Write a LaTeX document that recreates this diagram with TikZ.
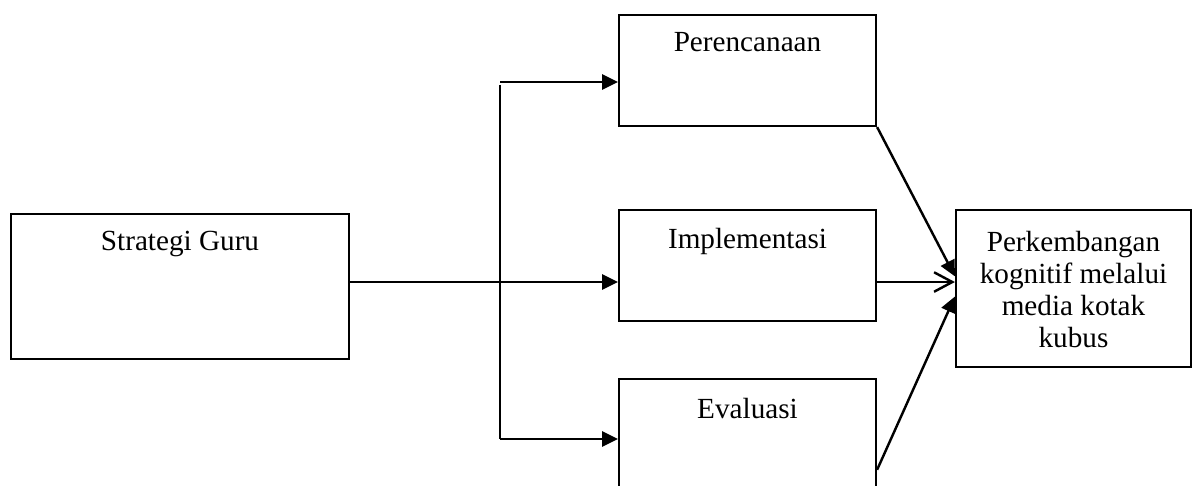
\documentclass[tikz,border=0pt]{standalone}
\usepackage{fontspec}
\setmainfont{Liberation Serif}
\usetikzlibrary{arrows.meta,positioning}
\def\pxu{0.411pt}
\tikzset{
  blok/.style={draw, line width=0.9pt, minimum width=257*\pxu, minimum height=111*\pxu, inner sep=0pt},
  judul/.style={inner sep=0pt, font=\fontsize{12}{13.2}\selectfont, align=center},
  garis/.style={line width=1pt},
  panah/.style={garis, -{Triangle[length=6.5pt,width=6.2pt]}},
  panahbuka/.style={garis, -{Straight Barb[length=7.5pt,width=8pt]}},
}
\begin{document}
\begin{tikzpicture}[x=\pxu, y=-\pxu]
\useasboundingbox (0,0) rectangle (1195,485);
\clip (0,0) rectangle (1195,485);
% kotak
\node[blok, minimum width=338*\pxu, minimum height=145*\pxu] (sg) at (180,286.5) {};
\node[blok] (per) at (747.5,70.5) {};
\node[blok] (imp) at (747.5,265.5) {};
\node[blok] (eva) at (747.5,434.5) {};
\node[blok, minimum width=235*\pxu, minimum height=157*\pxu] (pk) at (1073.5,288.5) {};
% teks
\node[judul, below=7.4pt of sg.north] (tsg) {Strategi Guru};
\node[judul, below=7.4pt of per.north] (tper) {Perencanaan};
\node[judul, below=7.8pt of imp.north] (timp) {Implementasi};
\node[judul, below=8.2pt of eva.north] (teva) {Evaluasi};
\node[judul, below=9pt of pk.north] (tpk) {Perkembangan\\kognitif melalui\\media kotak\\kubus};
% cabang
\coordinate (mid) at (500,282);
\coordinate (atas) at (500,82);
\coordinate (bawah) at (500,439);
\draw[panah] (sg.east |- mid) -- (imp.west |- mid);
\draw[garis] ([yshift=-1.2pt]atas) -- (bawah);
\draw[panah] (atas) -- (per.west |- atas);
\draw[panah] (bawah) -- (eva.west |- bawah);
% ke hasil
\draw[panah] (per.south east) -- ([yshift=5pt]pk.west);
\draw[panahbuka] (imp.east |- mid) -- (pk.west |- mid);
\draw[panah] ([yshift=-14.5pt]eva.east) -- ([yshift=-3.3pt]pk.west);
\end{tikzpicture}
\end{document}
